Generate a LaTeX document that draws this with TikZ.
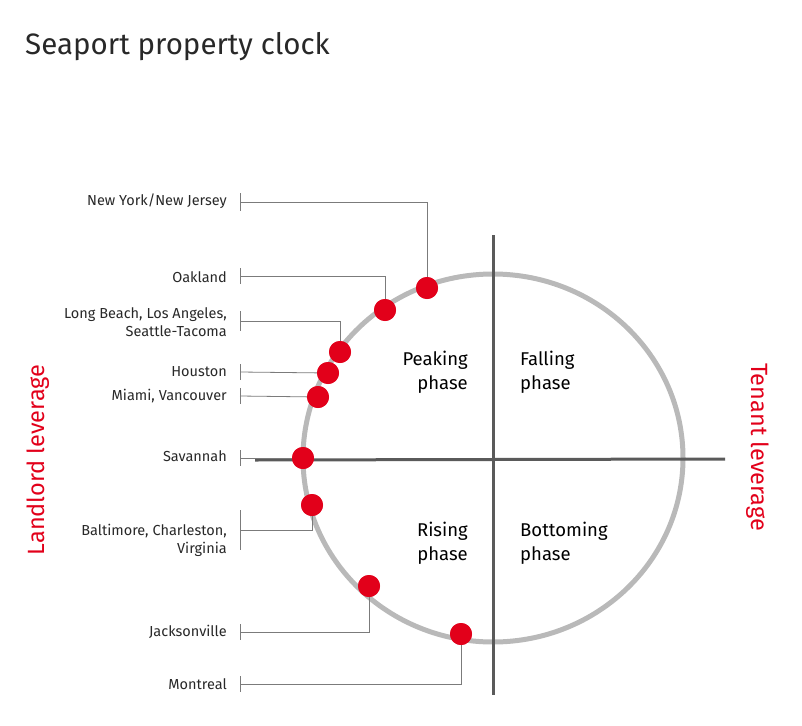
\documentclass[tikz,border=0pt]{standalone}
\usepackage{fontspec}
\setmainfont{Fira Sans}
\usepackage{tikz}
\definecolor{portred}{RGB}{226,0,26}
\definecolor{ringgray}{RGB}{185,185,185}
\definecolor{axisgray}{RGB}{90,90,90}
\definecolor{textgray}{RGB}{40,40,40}
\tikzstyle{port} = [circle, fill=portred, minimum size=22pt, inner sep=0pt]
\tikzstyle{city} = [anchor=east, align=right, font=\fontsize{14.5}{18}\selectfont, text=textgray, inner sep=0pt]
\tikzstyle{phase} = [align=left, font=\fontsize{18.5}{24}\selectfont, text=black, inner sep=0pt]
\tikzstyle{lead} = [draw=axisgray!80, line width=0.8pt]
\tikzstyle{side} = [font=\fontsize{23.5}{27}\selectfont, text=portred, inner sep=0pt]

\begin{document}
\begin{tikzpicture}[x=1pt, y=-1pt]
    \useasboundingbox (0,0) rectangle (802,725);

        % title
        \node (title) [anchor=west, font=\fontsize{29.5}{32}\selectfont, text=textgray, inner sep=0pt] at (25,47) {Seaport property clock};

        % clock
        \draw [ringgray, line width=5pt] (493,458) ellipse (190pt and 184pt);
        \draw [axisgray, line width=3pt] (255,460) -- (725,459);
        \draw [axisgray, line width=3pt] (493,235) -- (493,695);

        % phases
        \node (peak) [phase, align=right, anchor=east] at (468,372) {Peaking\\phase};
        \node (fall) [phase, anchor=west] at (520,372) {Falling\\phase};
        \node (rise) [phase, align=right, anchor=east] at (468,543) {Rising\\phase};
        \node (bottom) [phase, anchor=west] at (520,543) {Bottoming\\phase};

        % sides
        \node (landlord) [side, rotate=90] at (38,460) {Landlord leverage};
        \node (tenant) [side, rotate=-90] at (758,447) {Tenant leverage};

        % ports
        \node (nynj) [port] at (427,288) {};
        \node (oakland) [port] at (385,310) {};
        \node (longbeach) [port] at (340,352) {};
        \node (houston) [port] at (328,373) {};
        \node (miami) [port] at (318,397) {};
        \node (savannah) [port] at (303,458) {};
        \node (baltimore) [port] at (312,505) {};
        \node (jax) [port] at (369,586) {};
        \node (montreal) [port] at (461,634) {};

        % labels
        \node (nynj_l) [city] at (227,201) {New York/New Jersey};
        \node (oakland_l) [city] at (227,277) {Oakland};
        \node (longbeach_l) [city] at (227,322) {Long Beach, Los Angeles,\\Seattle-Tacoma};
        \node (houston_l) [city] at (227,372) {Houston};
        \node (miami_l) [city] at (227,396) {Miami, Vancouver};
        \node (savannah_l) [city] at (227,456) {Savannah};
        \node (baltimore_l) [city] at (227,540) {Baltimore, Charleston,\\Virginia};
        \node (jax_l) [city] at (227,632) {Jacksonville};
        \node (montreal_l) [city] at (227,684) {Montreal};

        % leaders
        \foreach \y/\h in {202/9, 276/8, 321/10, 372/8, 396/8, 458/8, 530/20, 632/8, 684/8}
            \draw [lead] (240,\y-\h) -- (240,\y+\h);
        \draw [lead] (240,202) -| (nynj);
        \draw [lead] (240,276) -| (oakland);
        \draw [lead] (240,321) -| (longbeach);
        \draw [lead] (240,372) -- (houston);
        \draw [lead] (240,396) -- (miami);
        \draw [lead] (240,458) -- (savannah);
        \draw [lead] (240,530) -| (baltimore);
        \draw [lead] (240,632) -| (jax);
        \draw [lead] (240,684) -| (montreal);

        % redraw dots on top
        \foreach \p/\q in {427/288, 385/310, 340/352, 328/373, 318/397, 303/458, 312/505, 369/586, 461/634}
            \fill [portred] (\p,\q) circle (11pt);

\end{tikzpicture}
\end{document}
